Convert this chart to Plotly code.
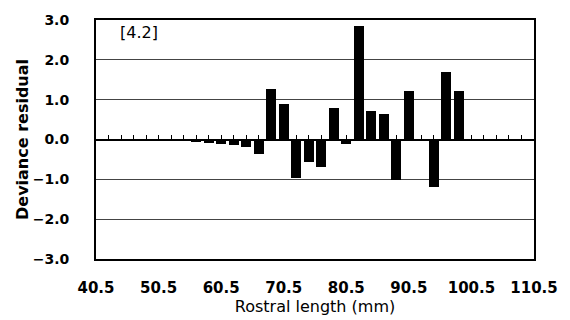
import plotly.graph_objects as go

# Data
rostral_length = [54.5, 56.5, 58.5, 60.5, 62.5, 64.5, 66.5, 68.5, 70.5, 72.5, 74.5,
                  76.5, 78.5, 80.5, 82.5, 84.5, 86.5, 88.5, 90.5, 94.5, 96.5, 98.5]
deviance_residual = [-0.04, -0.07, -0.09, -0.12, -0.15, -0.20, -0.37, 1.27, 0.88, -0.97, -0.56,
                     -0.68, 0.80, -0.12, 2.84, 0.72, 0.63, -1.02, 1.21, -1.19, 1.70, 1.21]
x_tick_labels = ["40.5", "50.5", "60.5", "70.5", "80.5", "90.5", "100.5", "110.5"]
x_tick_vals = [40.5, 50.5, 60.5, 70.5, 80.5, 90.5, 100.5, 110.5]
y_tick_vals = [-3, -2, -1, 0, 1, 2, 3]
y_tick_labels = ["\u22123.0", "\u22122.0", "\u22121.0", "0.0", "1.0", "2.0", "3.0"]
bin_ticks = [42.5 + 2 * i for i in range(34)]

fig = go.Figure()
fig.add_trace(go.Bar(x=rostral_length, y=deviance_residual, width=1.6,
                     marker=dict(color="black", line=dict(width=0)), showlegend=False))
fig.add_trace(go.Scatter(x=[], y=[], xaxis="x2", yaxis="y", showlegend=False))

tick_font = dict(family="DejaVu Sans", size=14, color="black", weight="bold")
x_tick_font = dict(family="DejaVu Sans", size=15, color="black", weight="bold")

fig.update_layout(
    width=570, height=320,
    margin=dict(l=96, r=27, t=17, b=57),
    paper_bgcolor="white", plot_bgcolor="white",
    bargap=0,
    xaxis=dict(range=[40.5, 110.5], tickvals=x_tick_vals, ticktext=x_tick_labels,
               tickfont=x_tick_font, ticks="", showgrid=False, zeroline=False,
               showline=True, linecolor="black", linewidth=2, mirror=True,
               ticklabelstandoff=14,
               title=dict(text="Rostral length (mm)", standoff=0,
                          font=dict(family="DejaVu Sans", size=16, color="black"))),
    xaxis2=dict(range=[40.5, 110.5], overlaying="x", anchor="free", position=0.5,
                side="top", tickvals=bin_ticks, ticks="outside", ticklen=5, tickwidth=1,
                tickcolor="black", showticklabels=False, showgrid=False, zeroline=False,
                showline=False),
    yaxis=dict(range=[-3, 3], tickvals=y_tick_vals, ticktext=y_tick_labels,
               tickfont=tick_font, ticks="", showgrid=True, gridcolor="#444", gridwidth=1,
               zeroline=True, zerolinecolor="black", zerolinewidth=1.5,
               showline=True, linecolor="black", linewidth=2, mirror=True,
               ticklabelstandoff=22,
               title=dict(text="Deviance residual", standoff=0,
                          font=dict(family="DejaVu Sans", size=16, color="black", weight="bold"))),
    annotations=[dict(text="[4.2]", xref="paper", yref="paper", x=0.05, y=0.995,
                      xanchor="left", yanchor="top", showarrow=False,
                      font=dict(family="DejaVu Sans", size=16, color="black"))],
)

fig.write_html("out.html")
